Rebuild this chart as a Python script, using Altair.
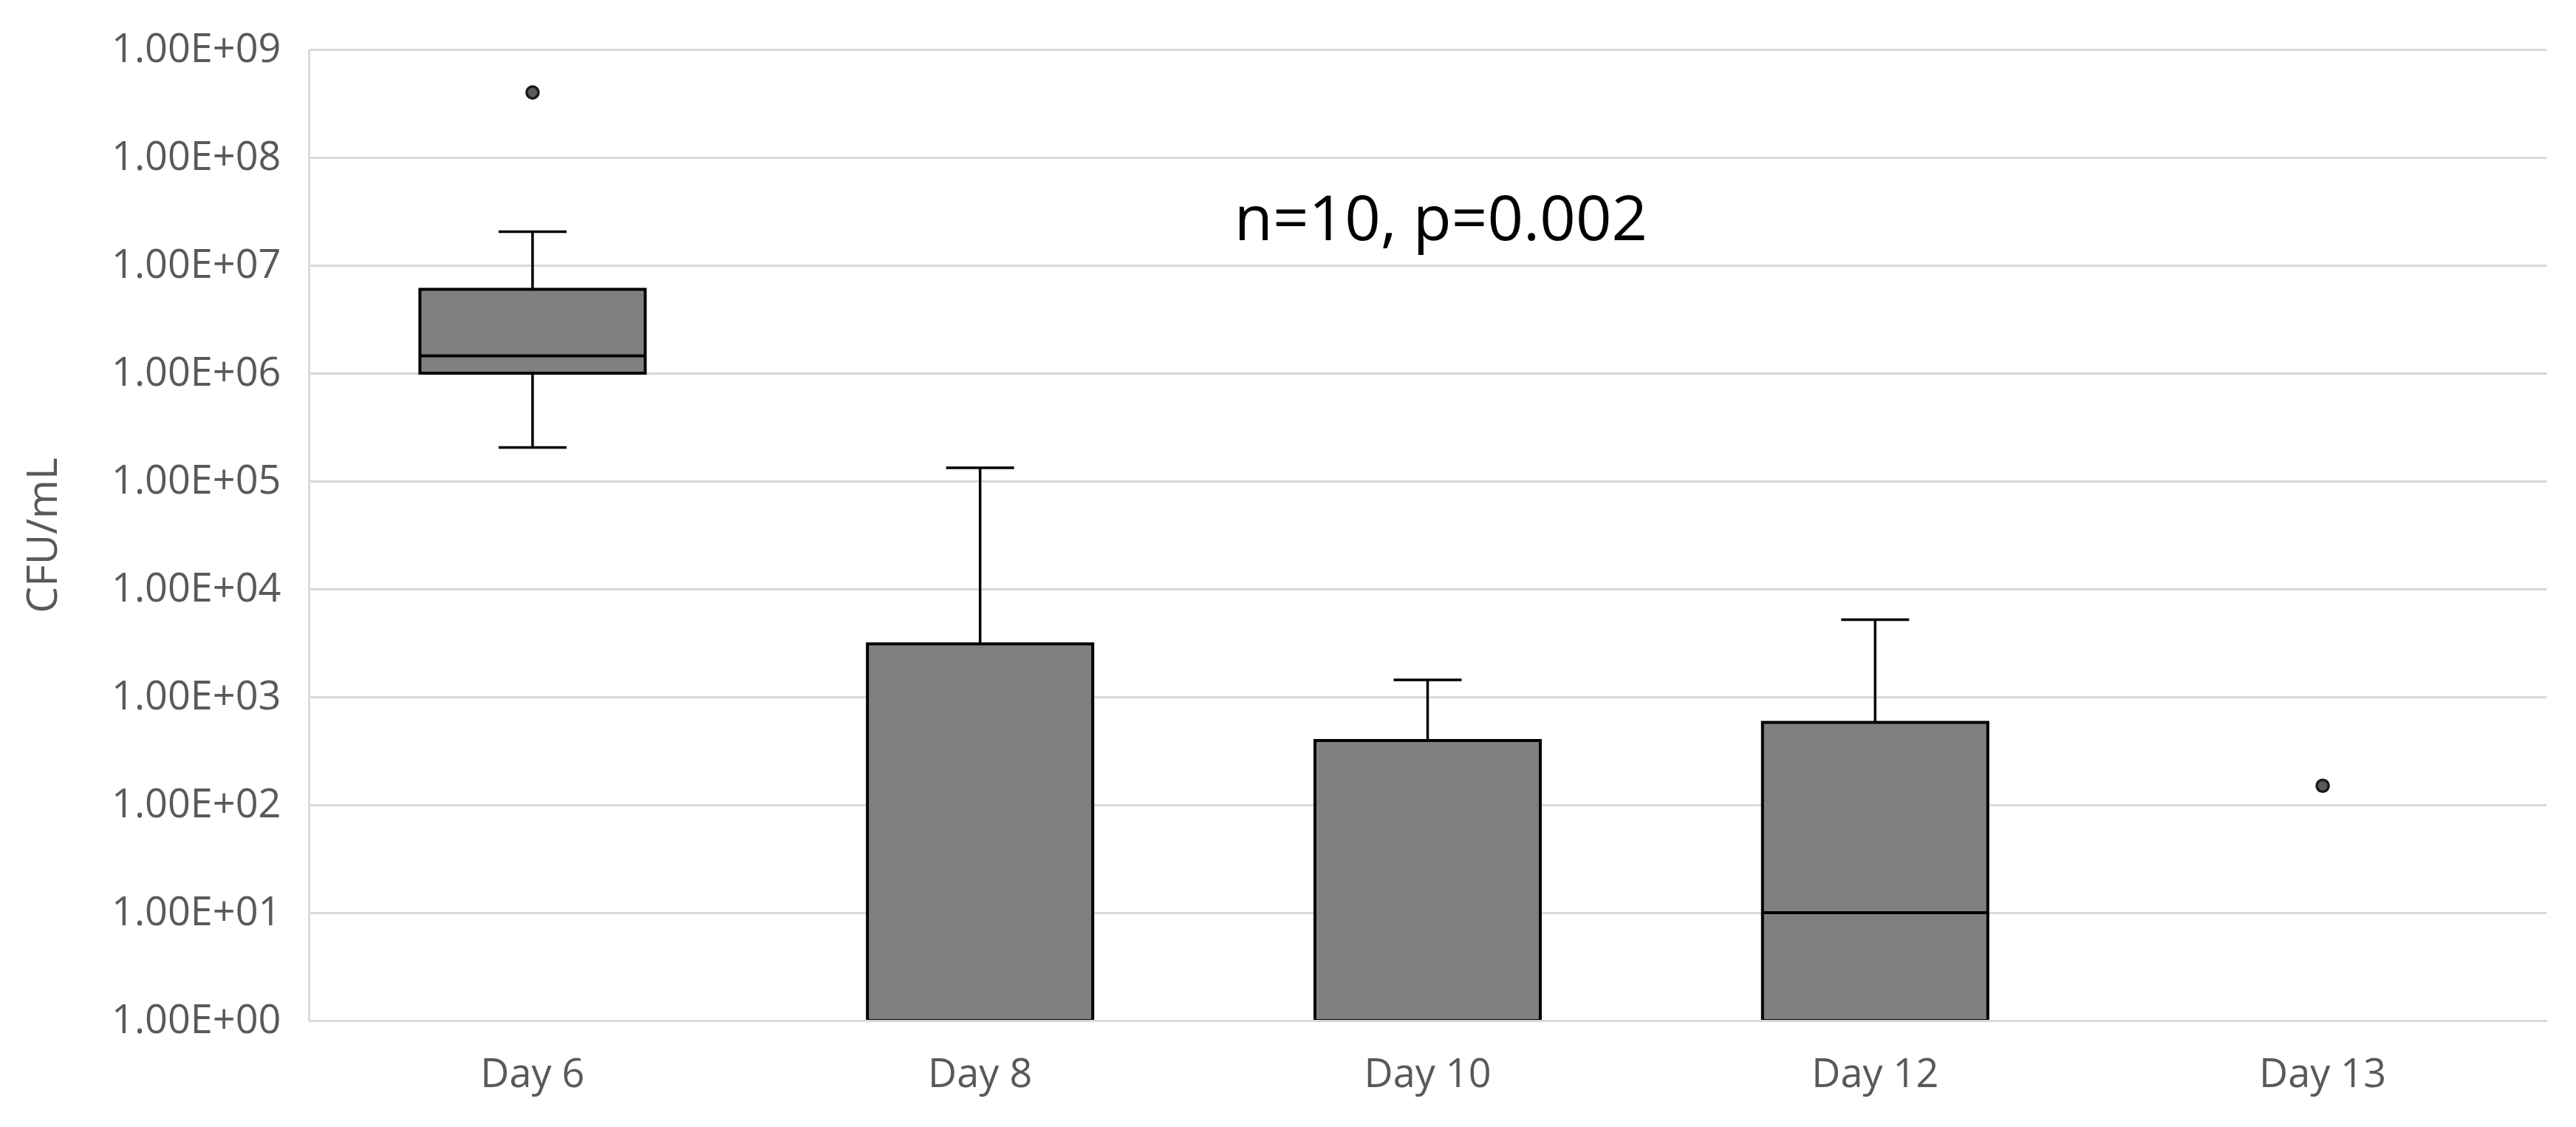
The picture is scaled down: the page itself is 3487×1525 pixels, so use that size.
import altair as alt
import pandas as pd

# ---- data ----
days = ["Day 6", "Day 8", "Day 10", "Day 12", "Day 13"]
q1 = [1.0e6, 1.0, 1.0, 1.0, None]
median = [1.45e6, None, None, 10.0, None]
q3 = [6.0e6, 3.1e3, 3.95e2, 5.8e2, None]
whisker_low = [2.05e5, None, None, None, None]
whisker_high = [2.05e7, 1.33e5, 1.44e3, 5.2e3, None]
outlier_days = ["Day 6", "Day 13"]
outlier_values = [4.0e8, 1.5e2]

y_tick_values = [1e0, 1e1, 1e2, 1e3, 1e4, 1e5, 1e6, 1e7, 1e8, 1e9]
y_tick_labels = ["1.00E+00", "1.00E+01", "1.00E+02", "1.00E+03", "1.00E+04",
                 "1.00E+05", "1.00E+06", "1.00E+07", "1.00E+08", "1.00E+09"]
y_title = "CFU/mL"

annotation_text = "n=10, p=0.002"
annotation_day = "Day 10"
annotation_value = 1.7e7

# ---- tables ----
box_df = pd.DataFrame({"day": days, "q1": q1, "q3": q3}).dropna()
med_df = pd.DataFrame({"day": days, "median": median}).dropna()
hi_df = pd.DataFrame({"day": days, "q3": q3, "hi": whisker_high}).dropna()
lo_df = pd.DataFrame({"day": days, "q1": q1, "lo": whisker_low}).dropna()
out_df = pd.DataFrame({"day": outlier_days, "value": outlier_values})
ann_df = pd.DataFrame({"day": [annotation_day], "value": [annotation_value], "label": [annotation_text]})

FONT = "Open Sans"
label_expr = "[" + ",".join("'" + s + "'" for s in y_tick_labels) + "][round(log(datum.value)/LN10)]"

x_enc = alt.X(
    "day:N",
    sort=days,
    scale=alt.Scale(domain=days, paddingInner=0, paddingOuter=0),
    axis=alt.Axis(
        title=None, labelAngle=0, ticks=False, tickSize=0, labelPadding=46,
        labelFont=FONT, labelFontSize=54, labelColor="#595959", labelLimit=1000,
        domain=True, domainColor="#d9d9d9", domainWidth=3, zindex=1,
    ),
)
y_scale = alt.Scale(type="log", domain=[1, 1e9], nice=False)
y_axis = alt.Axis(
    title=y_title, values=y_tick_values, labelExpr=label_expr,
    labelFont=FONT, labelFontSize=54, labelColor="#595959", labelLimit=1000,
    ticks=False, tickSize=0, labelPadding=38,
    grid=True, gridColor="#d9d9d9", gridWidth=3,
    domain=True, domainColor="#d9d9d9", domainWidth=3,
    titleFont=FONT, titleFontSize=57, titleFontWeight="normal", titleColor="#595959",
    titleAngle=270, titleAlign="center", titleBaseline="middle",
    titleX=-359, titleY=657,
)

boxes = alt.Chart(box_df).mark_bar(size=305, color="#808080", stroke="black", strokeWidth=4).encode(
    x=x_enc,
    y=alt.Y("q3:Q", scale=y_scale, axis=y_axis),
    y2="q1:Q",
)

whisk_hi = alt.Chart(hi_df).mark_rule(color="black", strokeWidth=3.5).encode(
    x=alt.X("day:N", sort=days), y=alt.Y("q3:Q", scale=y_scale), y2="hi:Q"
)
whisk_lo = alt.Chart(lo_df).mark_rule(color="black", strokeWidth=3.5).encode(
    x=alt.X("day:N", sort=days), y=alt.Y("q1:Q", scale=y_scale), y2="lo:Q"
)
cap_hi = alt.Chart(hi_df).mark_tick(size=92, thickness=3.5, color="black", opacity=1).encode(
    x=alt.X("day:N", sort=days), y=alt.Y("hi:Q", scale=y_scale)
)
cap_lo = alt.Chart(lo_df).mark_tick(size=92, thickness=3.5, color="black", opacity=1).encode(
    x=alt.X("day:N", sort=days), y=alt.Y("lo:Q", scale=y_scale)
)
med = alt.Chart(med_df).mark_tick(size=305, thickness=4, color="black", opacity=1).encode(
    x=alt.X("day:N", sort=days), y=alt.Y("median:Q", scale=y_scale)
)
outliers = alt.Chart(out_df).mark_circle(size=260, color="#5a5a5a", stroke="#1a1a1a", strokeWidth=3.5, opacity=1).encode(
    x=alt.X("day:N", sort=days), y=alt.Y("value:Q", scale=y_scale)
)
ann = alt.Chart(ann_df).mark_text(font=FONT, fontSize=85, color="black", baseline="alphabetic", align="center", dx=18).encode(
    x=alt.X("day:N", sort=days), y=alt.Y("value:Q", scale=y_scale), text="label:N"
)

chart = alt.layer(boxes, whisk_hi, whisk_lo, cap_hi, cap_lo, med, outliers, ann).properties(
    width=3029,
    height=1314,
    padding={"left": 410, "top": 59, "right": 32, "bottom": 136},
    autosize=alt.AutoSizeParams(type="none"),
    background="white",
).configure_view(stroke=None)

chart.save("out.html", embed_options={"renderer": "svg", "actions": False})
